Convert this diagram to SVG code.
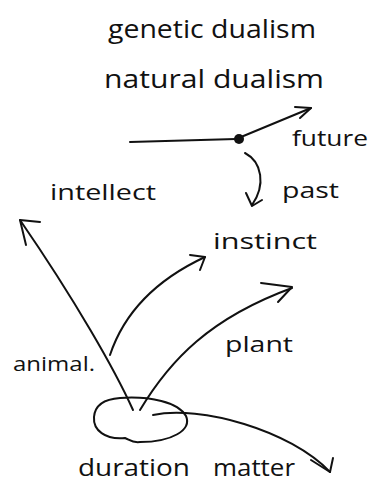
<svg xmlns="http://www.w3.org/2000/svg" width="369" height="483" viewBox="0 0 369 483">
<style>
.t{font-family:"Open Sans","DejaVu Sans",sans-serif;fill:#111;font-weight:400}
.l{fill:none;stroke:#111;stroke-width:2;stroke-linecap:round;stroke-linejoin:round}
</style>
<rect width="369" height="483" fill="#fff"/>
<g id="title">
<text class="t" x="108" y="38" font-size="26" textLength="208" lengthAdjust="spacingAndGlyphs">genetic dualism</text>
<text class="t" x="104" y="88" font-size="26" textLength="220" lengthAdjust="spacingAndGlyphs">natural dualism</text>
</g>
<g id="timeline">
<circle cx="239" cy="139" r="5" fill="#111"/>
<text class="t" x="292" y="146" font-size="21" textLength="76" lengthAdjust="spacingAndGlyphs">future</text>
<text class="t" x="282" y="198" font-size="22" textLength="57" lengthAdjust="spacingAndGlyphs">past</text>
</g>
<g id="intellect"><text class="t" x="50" y="200" font-size="22" textLength="106" lengthAdjust="spacingAndGlyphs">intellect</text></g>
<g id="instinct"><text class="t" x="213" y="249" font-size="22" textLength="104" lengthAdjust="spacingAndGlyphs">instinct</text></g>
<g id="plant"><text class="t" x="225" y="352" font-size="22" textLength="68" lengthAdjust="spacingAndGlyphs">plant</text></g>
<g id="animal"><text class="t" x="13" y="371" font-size="20" textLength="82" lengthAdjust="spacingAndGlyphs">animal.</text></g>
<g id="duration">
<path class="l" d="M120 398 C150 396 178 402 186 416 C192 430 172 442 140 442 C132 443 130 440 125 438 C105 440 93 430 94 417 C95 405 105 399 120 398 Z"/>
<text class="t" x="78" y="476" font-size="24" textLength="112" lengthAdjust="spacingAndGlyphs">duration</text>
</g>
<g id="matter"><text class="t" x="213" y="476" font-size="24" textLength="82" lengthAdjust="spacingAndGlyphs">matter</text></g>
<g id="connectors">
<path class="l" d="M130 142 L236 139"/>
<path class="l" d="M241 137 L311 108"/>
<path class="l" d="M295 107 L311 108 L300 118"/>
<path class="l" d="M245 153 C262 162 266 185 252 205"/>
<path class="l" d="M246 193 L252 206 L262 200"/>
<path class="l" d="M133 410 C115 370 75 300 20 220"/>
<path class="l" d="M40 222 L20 220 L26 245"/>
<path class="l" d="M110 355 C125 310 160 278 205 257"/>
<path class="l" d="M190 255 L205 257 L200 270"/>
<path class="l" d="M140 410 C170 360 210 318 292 288"/>
<path class="l" d="M261 283 L292 287 L278 302"/>
<path class="l" d="M153 415 C200 405 290 430 330 472"/>
<path class="l" d="M311 460 L330 472 L333 458"/>
</g>
</svg>
